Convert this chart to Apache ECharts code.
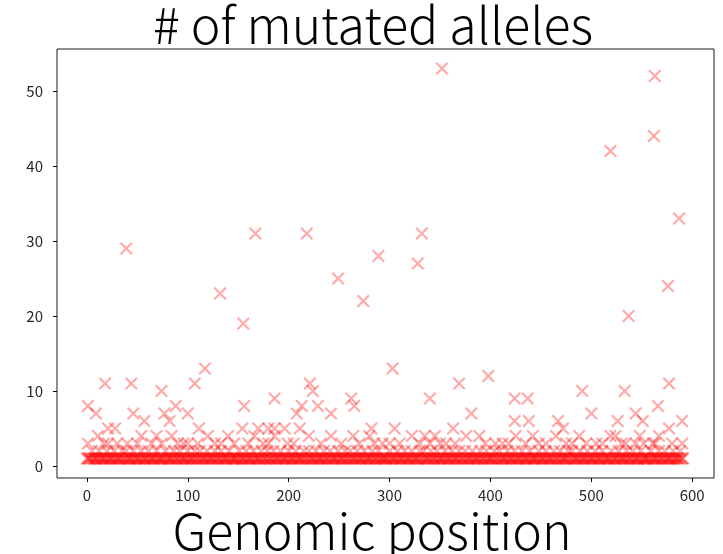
<!DOCTYPE html>
<html>
<head>
<meta charset="utf-8">
<script src="https://cdn.jsdelivr.net/npm/echarts@6/dist/echarts.min.js"></script>
<style>
  html, body { margin: 0; padding: 0; background: #fff; }
  #chart { width: 723px; height: 554px; }
</style>
</head>
<body>
<div id="chart"></div>
<script>
// 每个位置的突变等位基因数 (index = genomic position)
const baseCounts = [
  1,1,1,1,1,2,1,1,1,1,1,1,2,1,1,1,1,1,1,1,2,1,1,1,1,1,1,2,1,1,1,1,1,1,1,2,1,
  1,1,2,1,1,1,1,1,1,2,1,1,1,1,1,1,1,2,1,1,1,1,1,1,2,1,1,1,1,1,1,1,2,1,1,1,1,
  1,1,1,1,2,1,1,1,1,1,1,1,2,1,1,1,1,1,2,1,1,1,1,1,1,1,2,1,1,1,1,1,1,2,1,1,1,
  1,2,1,1,1,1,1,1,2,1,1,1,1,1,1,1,2,1,1,1,1,1,2,1,1,1,1,1,1,1,2,1,1,1,1,1,1,
  1,1,1,2,1,1,1,1,1,1,2,1,1,1,1,1,1,2,1,1,1,1,1,1,1,2,1,1,1,1,1,2,1,1,1,1,1,
  2,1,1,1,1,1,1,2,1,1,1,1,1,1,1,2,1,1,1,1,1,1,2,1,1,1,1,1,1,1,2,1,1,1,1,2,1,
  1,1,1,1,1,2,1,1,1,1,1,1,1,2,1,1,1,1,1,2,1,1,1,1,1,1,1,2,1,1,1,1,1,1,2,1,1,
  1,1,2,1,1,1,1,1,1,2,1,1,1,1,1,1,2,1,1,1,1,1,1,1,2,1,1,1,1,1,2,1,1,1,1,1,1,
  1,1,1,1,2,1,1,1,1,1,1,1,2,1,1,1,1,1,1,2,1,1,1,1,1,1,2,1,1,1,1,1,1,1,2,1,1,
  1,2,1,1,1,1,1,1,2,1,1,1,1,1,2,1,1,1,1,1,1,1,2,1,1,1,1,1,1,2,1,1,1,1,1,1,2,
  1,1,1,1,1,2,1,1,1,1,1,1,2,1,1,1,1,1,1,1,2,1,1,1,1,1,2,1,1,1,1,1,1,1,2,1,1,
  1,1,2,1,1,1,1,1,1,1,2,1,1,1,1,1,1,2,1,1,1,1,1,1,2,1,1,1,1,1,1,1,2,1,1,1,1,
  1,1,1,1,2,1,1,1,1,1,1,2,1,1,1,1,1,1,1,2,1,1,1,1,1,2,1,1,1,1,1,1,1,2,1,1,1,
  2,1,1,1,1,1,1,1,2,1,1,1,1,1,1,2,1,1,1,1,1,1,1,2,1,1,1,1,1,1,2,1,1,1,1,1,1,
  1,1,2,1,1,1,1,1,1,2,1,1,1,1,1,1,1,2,1,1,1,1,1,2,1,1,1,1,1,1,1,2,1,1,1,1,1,
  1,1,1,1,2,1,1,1,1,1,1,1,2,1,1,1,1,1,2,1,1,1,1,1,1,1,2,1,1,1,1,1,1,2,1,1,1
];

// 额外的点: 位置 与 等位基因数
const peakPositions = [
  39, 132, 155, 167, 218, 249, 274, 289, 328, 332, 352, 519, 537, 562, 563, 576, 587,
  1, 9, 18, 21, 28, 44, 46, 57, 74, 77, 82, 88, 100, 107, 111, 117, 156, 154, 170, 180,
  186, 196, 186, 211, 208, 213, 221, 224, 229, 242, 262, 265, 282, 303, 398, 369, 340,
  381, 305, 363, 424, 437, 424, 438, 491, 500, 467, 472, 533, 526, 544, 551, 566, 577,
  577, 590,
  1, 11, 17, 21, 50, 54, 64, 69, 74, 84, 96, 100, 120, 127, 133, 146, 166, 180, 186, 199,
  232, 242, 252, 264, 285, 280, 293, 322, 330, 335, 340, 345, 356, 376, 389, 412, 425,
  435, 442, 448, 465, 475, 481, 495, 511, 519, 524, 534, 544, 548, 552, 561, 563, 567,
  580, 590, 30, 40, 90, 110, 140, 160, 175, 205, 220, 270, 300, 310, 350, 365, 395, 405,
  418, 455, 488, 505, 530, 557, 572, 585
];
const peakCounts = [
  29, 23, 19, 31, 31, 25, 22, 28, 27, 31, 53, 42, 20, 44, 52, 24, 33,
  8, 7, 11, 5, 5, 11, 7, 6, 10, 7, 6, 8, 7, 11, 5, 13, 8, 5, 5, 5,
  5, 5, 9, 5, 7, 8, 11, 10, 8, 7, 9, 8, 5, 13, 12, 11, 9,
  7, 5, 5, 9, 9, 6, 6, 10, 7, 6, 5, 10, 6, 7, 6, 8, 11,
  5, 6,
  3, 4, 3, 3, 3, 4, 3, 4, 3, 4, 3, 3, 4, 3, 3, 3, 4, 3, 4, 3,
  3, 4, 3, 4, 3, 4, 3, 4, 3, 4, 3, 4, 3, 4, 4, 3, 4,
  3, 4, 3, 4, 3, 3, 3, 3, 4, 4, 3, 3, 4, 3, 3, 3,
  4, 3, 3, 3, 3, 3, 3, 4, 3, 3, 3, 4, 3, 3, 3, 3,
  3, 3, 3, 3, 3, 4, 3, 3
];

const xTicks = [0, 100, 200, 300, 400, 500, 600];
const yTicks = [0, 10, 20, 30, 40, 50];

const titleText = '# of mutated alleles';
const xLabelText = 'Genomic position';

const points = baseCounts.map((v, i) => [i, v]);
peakPositions.forEach((p, i) => points.push([p, peakCounts[i]]));

const chartDom = document.getElementById('chart');
const myChart = echarts.init(chartDom);

const fontFamily = '"Noto Sans CJK JP", "Noto Sans", sans-serif';
const crossPath = 'path://M0,1.2L1.2,0L10,8.8L8.8,10ZM8.8,0L10,1.2L1.2,10L0,8.8Z';

const option = {
    animation: false,
    grid: {
        left: 57,
        right: 9,
        top: 49,
        bottom: 76,
        show: true,
        borderColor: '#1a1a1a',
        borderWidth: 1,
        backgroundColor: '#fff'
    },
    xAxis: {
        type: 'value',
        min: -29.6,
        max: 621.6,
        splitLine: { show: false },
        axisLine: { show: false, onZero: false },
        axisTick: {
            show: true,
            customValues: xTicks,
            length: 4,
            lineStyle: { color: '#000' }
        },
        axisLabel: {
            customValues: xTicks,
            margin: 10,
            color: '#262626',
            fontSize: 15,
            fontFamily: fontFamily
        }
    },
    yAxis: {
        type: 'value',
        min: -1.6,
        max: 55.6,
        splitLine: { show: false },
        axisLine: { show: false, onZero: false },
        axisTick: {
            show: true,
            customValues: yTicks,
            length: 4,
            lineStyle: { color: '#000' }
        },
        axisLabel: {
            customValues: yTicks,
            margin: 14,
            color: '#262626',
            fontSize: 15,
            fontFamily: fontFamily
        }
    },
    graphic: [
        {
            type: 'text',
            x: 373,
            y: 25,
            style: {
                text: titleText,
                textAlign: 'center',
                textVerticalAlign: 'middle',
                fontSize: 50,
                fontWeight: 200,
                fontFamily: fontFamily,
                fill: '#000'
            }
        },
        {
            type: 'text',
            x: 372,
            y: 531,
            style: {
                text: xLabelText,
                textAlign: 'center',
                textVerticalAlign: 'middle',
                fontSize: 50,
                fontWeight: 200,
                fontFamily: fontFamily,
                fill: '#000'
            }
        }
    ],
    series: [{
        type: 'scatter',
        data: points,
        symbol: crossPath,
        symbolSize: 13,
        itemStyle: {
            color: 'rgba(255, 0, 0, 0.42)'
        },
        emphasis: { disabled: true }
    }]
};

myChart.setOption(option);

window.addEventListener('resize', () => {
    myChart.resize();
});
</script>
</body>
</html>
